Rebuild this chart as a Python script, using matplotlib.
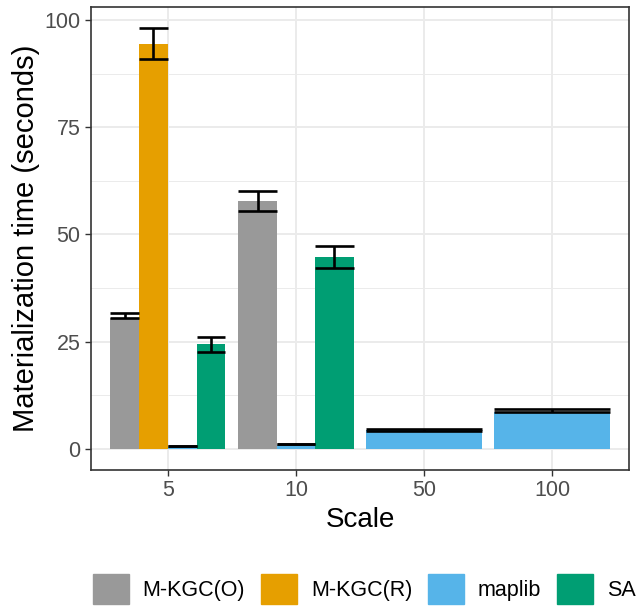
import matplotlib
matplotlib.use("Agg")
import matplotlib.pyplot as plt
import numpy as np
from matplotlib.patches import Patch

plt.rcParams['font.family'] = ['Liberation Sans', 'DejaVu Sans']

# data
scales = ['5', '10', '50', '100']
systems = ['M-KGC(O)', 'M-KGC(R)', 'maplib', 'SA']
colors = ['#999999', '#E69F00', '#56B4E9', '#009E73']

# mean times per system, one value per scale (nan = not run)
mkgc_o = [30.6, 57.8, np.nan, np.nan]
mkgc_r = [94.4, np.nan, np.nan, np.nan]
maplib = [0.5, 1.0, 4.4, 8.6]
sa = [24.4, 44.7, np.nan, np.nan]

# error bar ends
mkgc_o_lo = [30.5, 55.4, np.nan, np.nan]
mkgc_o_hi = [31.7, 60.2, np.nan, np.nan]
mkgc_r_lo = [90.9, np.nan, np.nan, np.nan]
mkgc_r_hi = [98.1, np.nan, np.nan, np.nan]
maplib_lo = [0.6, 1.1, 4.3, 8.7]
maplib_hi = [0.7, 1.2, 4.6, 9.3]
sa_lo = [22.7, 42.2, np.nan, np.nan]
sa_hi = [26.1, 47.3, np.nan, np.nan]

values = [mkgc_o, mkgc_r, maplib, sa]
lows = [mkgc_o_lo, mkgc_r_lo, maplib_lo, sa_lo]
highs = [mkgc_o_hi, mkgc_r_hi, maplib_hi, sa_hi]

fig = plt.figure(figsize=(6.44, 6.10), dpi=100)
ax = fig.add_axes([91/644, 1-470/610, (629-91)/644, (470-7)/610])

for i in range(len(scales)):
    present = [k for k in range(len(systems)) if not np.isnan(values[k][i])]
    w = 0.9 / len(present)
    for j, k in enumerate(present):
        x = i - 0.45 + (j + 0.5) * w
        ax.bar(x, values[k][i], width=w, color=colors[k], zorder=2)
        lo, hi = lows[k][i], highs[k][i]
        ax.hlines([lo, hi], x - w/2, x + w/2, colors='black', lw=1.9, zorder=3)
        ax.vlines(x, lo, hi, colors='black', lw=1.9, zorder=3)

ax.set_xlim(-0.6, 3.6)
ax.set_ylim(-4.9, 103)
ax.set_xticks(range(len(scales)))
ax.set_xticklabels(scales)
ax.set_yticks([0, 25, 50, 75, 100])
ax.set_yticks([12.5, 37.5, 62.5, 87.5], minor=True)

ax.grid(which='major', color='#EBEBEB', lw=1.4, zorder=0)
ax.grid(which='minor', axis='y', color='#EBEBEB', lw=0.7, zorder=0)
ax.set_axisbelow(True)
ax.tick_params(axis='both', which='major', labelsize=15.5, labelcolor='#4D4D4D',
               color='#333333', length=4, width=1)
ax.tick_params(axis='y', which='minor', length=0)
for s in ax.spines.values():
    s.set_color('#333333')
    s.set_linewidth(1.2)

ax.set_xlabel('Scale', fontsize=20, labelpad=4)
ax.set_ylabel('Materialization time (seconds)', fontsize=21, labelpad=3.5)

handles = [Patch(color=c, label=s) for c, s in zip(colors, systems)]
fig.legend(handles=handles, loc='upper left', bbox_to_anchor=(93/644, 1-574/610),
           ncol=4, frameon=False, fontsize=15.5, handlelength=1.67, handleheight=1.8,
           handletextpad=0.64, columnspacing=0.74, borderaxespad=0, borderpad=0)

fig.savefig('out.png', dpi=100)
